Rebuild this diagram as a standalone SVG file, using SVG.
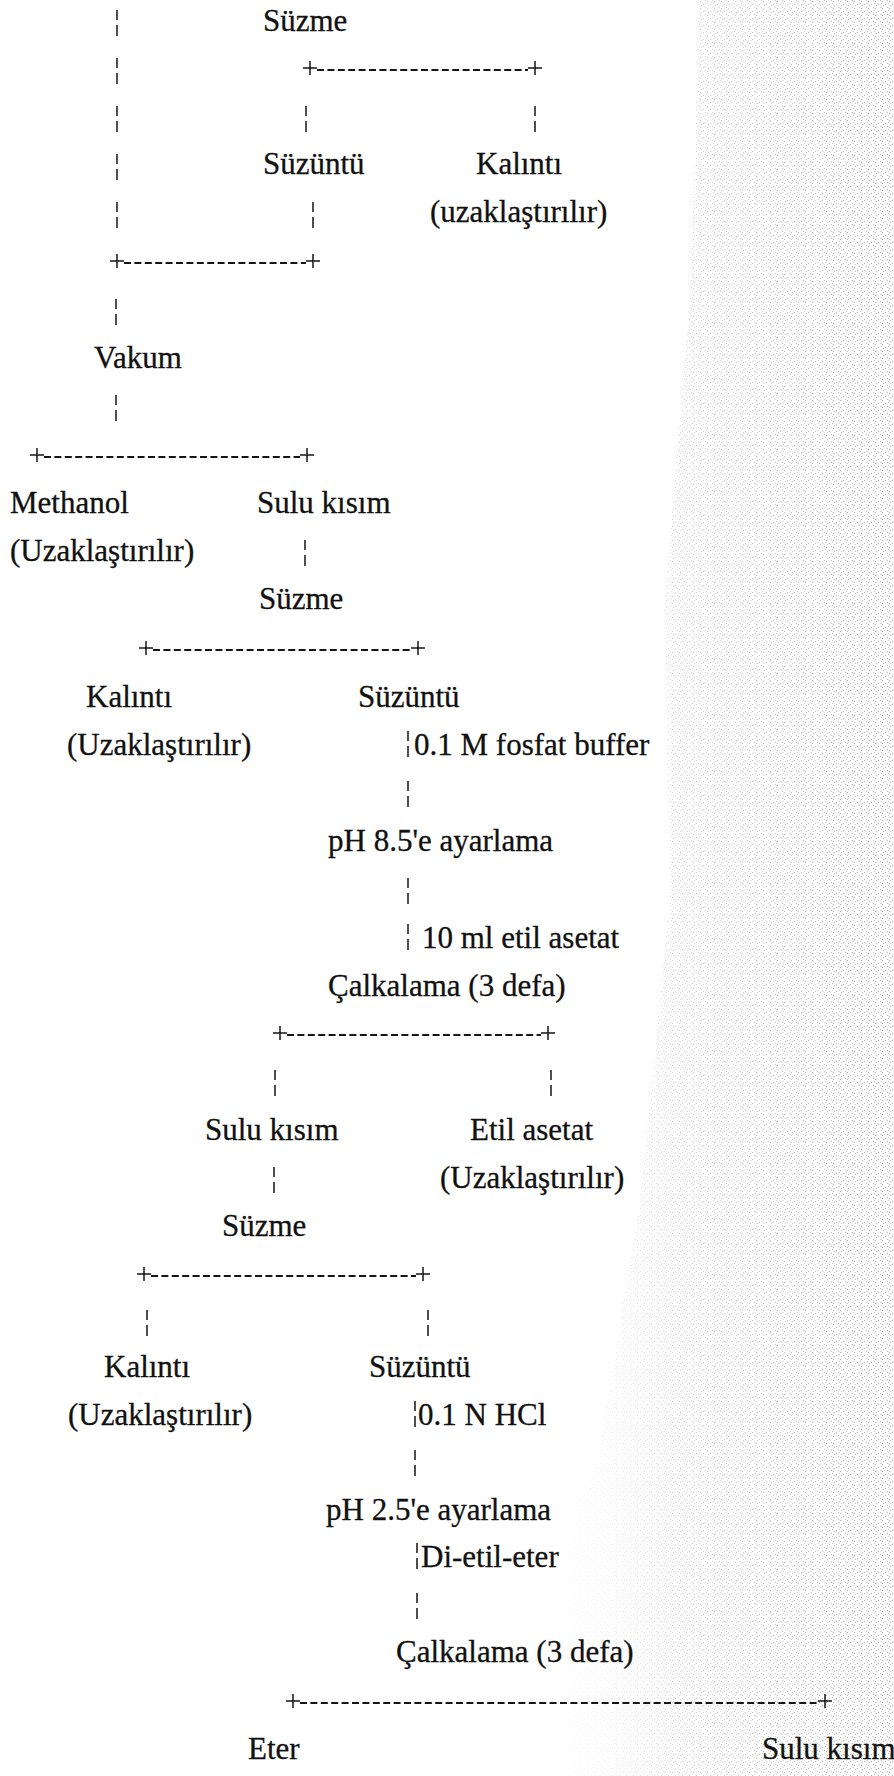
<svg xmlns="http://www.w3.org/2000/svg" width="894" height="1776" viewBox="0 0 894 1776">
  <style>
    .t { font-family: "Liberation Serif", "Times New Roman", serif; font-size: 31px; fill: #111; stroke: #111; stroke-width: 0.3; }
    .dash { stroke: #151515; stroke-width: 2; stroke-dasharray: 7 3.4; fill: none; }
    .mark { stroke: #151515; stroke-width: 1.5; fill: none; }
  </style>
  <defs>
    <!-- plus sign that ends each split line -->
    <path id="plus" class="mark" d="M-7 0H7M0 -7V7"/>
    <!-- broken vertical bar used as a flow step -->
    <path id="bar" class="mark" d="M0 -13V-3M0 2V13"/>
    <pattern id="grain" width="7" height="7" patternUnits="userSpaceOnUse">
      <rect x="0" y="1" width="1" height="1" fill="#6f6f6f"/>
      <rect x="3" y="4" width="1" height="1" fill="#808080"/>
      <rect x="5" y="0" width="1" height="1" fill="#979797"/>
      <rect x="1" y="5" width="1" height="1" fill="#8c8c8c"/>
      <rect x="6" y="3" width="1" height="1" fill="#a8a8a8"/>
    </pattern>
    <linearGradient id="fadeGrad" x1="0" y1="0" x2="1" y2="0">
      <stop offset="0" stop-color="#000"/>
      <stop offset="0.35" stop-color="#888"/>
      <stop offset="1" stop-color="#fff"/>
    </linearGradient>
    <mask id="grainMask" maskUnits="userSpaceOnUse" x="0" y="0" width="894" height="1776">
      <rect x="560" y="0" width="334" height="1776" fill="url(#fadeGrad)"/>
    </mask>
  </defs>

  <rect width="894" height="1776" fill="#ffffff"/>

  <!-- paper grain along the right margin -->
  <path d="M700 0 L690 300 L665 600 L670 900 L640 1200 L600 1450 L520 1650 L560 1776 L894 1776 L894 0 Z"
        fill="url(#grain)" mask="url(#grainMask)" opacity="0.65"/>

  <!-- connectors -->
  <g id="connectors">
    <!-- split lines -->
    <line class="dash" x1="317" y1="70" x2="528" y2="70"/>
    <use href="#plus" x="310" y="68"/><use href="#plus" x="535" y="68"/>

    <line class="dash" x1="124" y1="263" x2="306" y2="263"/>
    <use href="#plus" x="117" y="261"/><use href="#plus" x="313" y="261"/>

    <line class="dash" x1="44" y1="457" x2="300" y2="457"/>
    <use href="#plus" x="37" y="455"/><use href="#plus" x="307" y="455"/>

    <line class="dash" x1="153" y1="650" x2="411" y2="650"/>
    <use href="#plus" x="146" y="648"/><use href="#plus" x="418" y="648"/>

    <line class="dash" x1="287" y1="1035" x2="541" y2="1035"/>
    <use href="#plus" x="280" y="1033"/><use href="#plus" x="548" y="1033"/>

    <line class="dash" x1="151" y1="1276" x2="416" y2="1276"/>
    <use href="#plus" x="144" y="1274"/><use href="#plus" x="423" y="1274"/>

    <line class="dash" x1="300" y1="1703" x2="818" y2="1703"/>
    <use href="#plus" x="293" y="1701"/><use href="#plus" x="825" y="1701"/>

    <!-- left trunk -->
    <use href="#bar" x="117" y="23"/>
    <use href="#bar" x="117" y="71"/>
    <use href="#bar" x="117" y="119"/>
    <use href="#bar" x="117" y="167"/>
    <use href="#bar" x="117" y="215"/>
    <use href="#bar" x="116" y="312"/>
    <use href="#bar" x="116" y="408"/>

    <!-- first filtration -->
    <use href="#bar" x="306" y="119"/>
    <use href="#bar" x="535" y="119"/>
    <use href="#bar" x="313" y="215"/>

    <!-- aqueous part to filtration -->
    <use href="#bar" x="305" y="553"/>

    <!-- filtrate steps -->
    <use href="#bar" x="408" y="744"/>
    <use href="#bar" x="408" y="794"/>
    <use href="#bar" x="408" y="891"/>
    <use href="#bar" x="408" y="937"/>

    <!-- after shaking with ethyl acetate -->
    <use href="#bar" x="275" y="1083"/>
    <use href="#bar" x="551" y="1083"/>
    <use href="#bar" x="274" y="1180"/>

    <!-- second filtration -->
    <use href="#bar" x="147" y="1323"/>
    <use href="#bar" x="428" y="1323"/>

    <!-- acid steps -->
    <use href="#bar" x="415" y="1414"/>
    <use href="#bar" x="415" y="1463"/>
    <use href="#bar" x="417" y="1556"/>
    <use href="#bar" x="417" y="1606"/>
  </g>

  <!-- nodes -->
  <g id="n-suzme-1"><text class="t" x="263" y="31">Süzme</text></g>
  <g id="n-suzuntu-1"><text class="t" x="263" y="174">Süzüntü</text></g>
  <g id="n-kalinti-1">
    <text class="t" x="476" y="174">Kalıntı</text>
    <text class="t" x="430" y="222">(uzaklaştırılır)</text>
  </g>
  <g id="n-vakum"><text class="t" x="94" y="368">Vakum</text></g>
  <g id="n-methanol">
    <text class="t" x="10" y="513">Methanol</text>
    <text class="t" x="10" y="561">(Uzaklaştırılır)</text>
  </g>
  <g id="n-sulu-1"><text class="t" x="257" y="513">Sulu kısım</text></g>
  <g id="n-suzme-2"><text class="t" x="259" y="609">Süzme</text></g>
  <g id="n-kalinti-2">
    <text class="t" x="86" y="707">Kalıntı</text>
    <text class="t" x="67" y="755">(Uzaklaştırılır)</text>
  </g>
  <g id="n-suzuntu-2"><text class="t" x="358" y="707">Süzüntü</text></g>
  <g id="n-fosfat"><text class="t" x="414" y="755">0.1 M fosfat buffer</text></g>
  <g id="n-ph85"><text class="t" x="328" y="851">pH 8.5'e ayarlama</text></g>
  <g id="n-etilasetat-add"><text class="t" x="422" y="948">10 ml etil asetat</text></g>
  <g id="n-calkalama-1"><text class="t" x="328" y="996">Çalkalama (3 defa)</text></g>
  <g id="n-sulu-2"><text class="t" x="205" y="1140">Sulu kısım</text></g>
  <g id="n-etilasetat">
    <text class="t" x="470" y="1140">Etil asetat</text>
    <text class="t" x="440" y="1188">(Uzaklaştırılır)</text>
  </g>
  <g id="n-suzme-3"><text class="t" x="222" y="1236">Süzme</text></g>
  <g id="n-kalinti-3">
    <text class="t" x="104" y="1377">Kalıntı</text>
    <text class="t" x="68" y="1425">(Uzaklaştırılır)</text>
  </g>
  <g id="n-suzuntu-3"><text class="t" x="369" y="1377">Süzüntü</text></g>
  <g id="n-hcl"><text class="t" x="418" y="1425">0.1 N HCl</text></g>
  <g id="n-ph25"><text class="t" x="326" y="1520">pH 2.5'e ayarlama</text></g>
  <g id="n-dietileter"><text class="t" x="421" y="1567">Di-etil-eter</text></g>
  <g id="n-calkalama-2"><text class="t" x="396" y="1662">Çalkalama (3 defa)</text></g>
  <g id="n-eter"><text class="t" x="248" y="1759">Eter</text></g>
  <g id="n-sulu-3"><text class="t" x="762" y="1759">Sulu kısım</text></g>
</svg>
